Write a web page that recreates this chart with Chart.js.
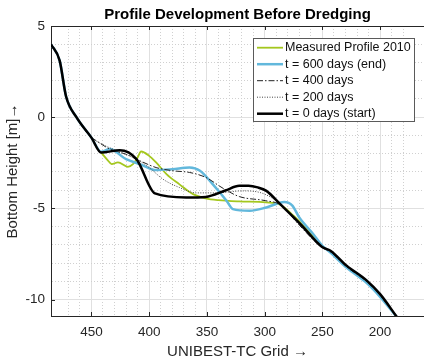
<!DOCTYPE html>
<html>
<head>
<meta charset="utf-8">
<script src="https://cdn.jsdelivr.net/npm/chart.js@4"></script>
<style>
  html, body { margin: 0; padding: 0; background: #fff; }
</style>
</head>
<body>
<canvas id="c" width="424" height="362"></canvas>
<script>
// grid positions (UNIBEST-TC) and bottom heights [m]
const xStart = [485, 477.5, 472, 463, 450, 441.5, 425.5, 411, 395, 368, 351, 334, 322, 314, 306, 298.5, 286.5, 269, 250.5, 243, 229, 211.5, 200, 185.5];
const yStart = [4.0, 3.1, 1.15, 0.0, -1.12, -1.94, -1.81, -2.3, -4.18, -4.4, -4.37, -4.02, -3.76, -3.76, -3.85, -4.04, -4.77, -5.86, -7.1, -7.32, -8.14, -8.96, -9.7, -10.95];

const x200 = [485, 477.5, 472, 463, 450, 446, 428, 411, 400, 388, 374, 359, 342, 319, 304, 293, 286, 270, 250.5, 243, 229, 211.5, 200, 185.5];
const y200 = [4.0, 3.1, 1.15, 0.0, -1.12, -1.3, -1.85, -2.3, -2.76, -3.4, -3.85, -4.15, -4.15, -4.04, -4.13, -4.45, -4.78, -5.88, -7.12, -7.36, -8.18, -9.0, -9.74, -10.97];

const x400 = [485, 477.5, 472, 463, 450, 448, 434, 420, 408, 394, 379, 365, 351, 336, 322, 299, 286.5, 270, 250.5, 243, 229, 211.5, 200, 185.5];
const y400 = [4.0, 3.1, 1.15, 0.0, -1.12, -1.2, -1.75, -2.03, -2.39, -2.76, -2.94, -3.03, -3.3, -3.9, -4.35, -4.58, -4.8, -5.92, -7.14, -7.38, -8.2, -9.02, -9.76, -10.98];

const x600 = [485, 477.5, 472, 463, 450, 441.5, 434, 420, 408, 394, 380, 365, 356, 345, 333, 327.5, 313, 298.5, 283, 276, 270, 258, 250, 243, 229, 211.5, 200, 185];
const y600 = [4.0, 3.1, 1.15, 0.0, -1.12, -1.9, -1.75, -2.3, -2.57, -2.9, -2.85, -2.76, -2.94, -3.67, -4.58, -5.04, -5.13, -4.95, -4.65, -4.85, -5.5, -6.4, -7.05, -7.42, -8.25, -9.1, -9.85, -11.0];

const xMeasured = [441.5, 436, 432.5, 427, 418.5, 414, 410, 407, 400, 394, 385, 374, 362, 351, 340, 322, 299, 286.5, 275, 265, 255];
const yMeasured = [-1.94, -2.35, -2.57, -2.48, -2.72, -2.57, -2.21, -1.88, -2.12, -2.48, -3.12, -3.67, -4.22, -4.45, -4.55, -4.62, -4.67, -4.8, -5.4, -6.05, -6.75];

const seriesLabels = ['Measured Profile 2010', 't = 600 days (end)', 't = 400 days', 't = 200 days', 't = 0 days (start)'];
const xTicksMajor = [450, 400, 350, 300, 250, 200];
const yTicksMajor = [-10, -5, 0, 5];

const pts = (xs, ys) => xs.map((x, i) => ({ x: x, y: ys[i] }));
const AXIS = '#262626';

// legend drawn inside the axes, top right, like the original
const insideLegend = {
  id: 'insideLegend',
  afterDatasetsDraw(chart) {
    const { ctx, chartArea } = chart;
    const ds = chart.data.datasets;
    const w = 161, rowH = 16.5, h = 83;
    const x0 = chartArea.right - 10 - w, y0 = chartArea.top + 12;
    ctx.save();
    ctx.fillStyle = '#fff';
    ctx.fillRect(x0, y0, w, h);
    ctx.strokeStyle = '#5a5a5a';
    ctx.lineWidth = 1;
    ctx.strokeRect(x0 + 0.5, y0 + 0.5, w, h);
    ctx.font = '12.5px "Liberation Sans", Arial, sans-serif';
    ctx.textBaseline = 'middle';
    ds.forEach((d, i) => {
      const y = y0 + 9.7 + i * rowH;
      ctx.beginPath();
      ctx.setLineDash(d.borderDash || []);
      ctx.strokeStyle = d.borderColor;
      ctx.lineWidth = d.borderWidth;
      ctx.moveTo(x0 + 4, y);
      ctx.lineTo(x0 + 30, y);
      ctx.stroke();
      ctx.setLineDash([]);
      ctx.fillStyle = '#111';
      ctx.fillText(d.label, x0 + 32, y);
    });
    ctx.restore();
  },
  afterDraw(chart) {
    // box on top + small inward tick marks
    const { ctx, chartArea, scales } = chart;
    ctx.save();
    ctx.strokeStyle = AXIS;
    ctx.lineWidth = 1;
    ctx.beginPath();
    ctx.moveTo(chartArea.left, chartArea.top + 0.5);
    ctx.lineTo(chartArea.right, chartArea.top + 0.5);
    xTicksMajor.forEach(v => {
      const px = Math.round(scales.x.getPixelForValue(v)) + 0.5;
      ctx.moveTo(px, chartArea.bottom);
      ctx.lineTo(px, chartArea.bottom - 4);
      ctx.moveTo(px, chartArea.top);
      ctx.lineTo(px, chartArea.top + 4);
    });
    yTicksMajor.forEach(v => {
      const py = Math.round(scales.y.getPixelForValue(v)) + 0.5;
      ctx.moveTo(chartArea.left, py);
      ctx.lineTo(chartArea.left + 4, py);
    });
    ctx.stroke();
    ctx.restore();
  }
};

const isMajor = (v, step) => Math.abs(v / step - Math.round(v / step)) < 1e-6;

new Chart(document.getElementById('c'), {
  type: 'line',
  data: {
    datasets: [
      { label: seriesLabels[0], data: pts(xMeasured, yMeasured), borderColor: 'rgb(164, 199, 30)', borderWidth: 1.8, order: 4 },
      { label: seriesLabels[1], data: pts(x600, y600), borderColor: 'rgb(98, 184, 220)', borderWidth: 2.5, order: 3 },
      { label: seriesLabels[2], data: pts(x400, y400), borderColor: '#222', borderWidth: 1, borderDash: [6, 2, 1.5, 2], order: 2 },
      { label: seriesLabels[3], data: pts(x200, y200), borderColor: '#444', borderWidth: 1, borderDash: [1, 1.5], order: 1 },
      { label: seriesLabels[4], data: pts(xStart, yStart), borderColor: '#000', borderWidth: 2.5, order: 0 }
    ]
  },
  options: {
    responsive: false,
    animation: false,
    layout: { padding: 0, autoPadding: false },
    elements: {
      point: { radius: 0 },
      line: { cubicInterpolationMode: 'monotone', fill: false }
    },
    scales: {
      x: {
        type: 'linear',
        reverse: true,
        min: 162,
        max: 485,
        afterFit: s => { s.height = 46; s.paddingLeft = 0; s.paddingRight = 0; },
        border: { color: AXIS, width: 1, dash: c => (c.tick && isMajor(c.tick.value, 50)) ? [] : [1, 2] },
        grid: {
          drawTicks: false,
          color: c => (c.tick && isMajor(c.tick.value, 50)) ? '#e0e0e0' : '#d0d0d0',
          lineWidth: 1
        },
        ticks: {
          stepSize: 10,
          autoSkip: false,
          maxRotation: 0,
          padding: 8,
          color: AXIS,
          font: { family: '"Liberation Sans", Arial, sans-serif', size: 13.5 },
          callback: v => isMajor(v, 50) ? String(v) : ''
        },
        title: {
          display: true,
          text: 'UNIBEST-TC Grid \u2192',
          color: AXIS,
          padding: { top: 0, bottom: 1 },
          font: { family: '"Liberation Sans", Arial, sans-serif', size: 15 }
        }
      },
      y: {
        type: 'linear',
        min: -10.9,
        max: 5,
        afterFit: s => { s.width = 51; s.paddingTop = 0; s.paddingBottom = 0; },
        border: { color: AXIS, width: 1, dash: c => (c.tick && isMajor(c.tick.value, 5)) ? [] : [1, 2] },
        grid: {
          drawTicks: false,
          color: c => (c.tick && isMajor(c.tick.value, 5)) ? '#e0e0e0' : '#d0d0d0',
          lineWidth: 1
        },
        ticks: {
          stepSize: 1,
          autoSkip: false,
          padding: 6,
          color: AXIS,
          font: { family: '"Liberation Sans", Arial, sans-serif', size: 13.5 },
          callback: v => isMajor(v, 5) ? String(v) : ''
        },
        title: {
          display: true,
          text: 'Bottom Height [m]\u2192',
          color: AXIS,
          padding: { top: 4, bottom: 0 },
          font: { family: '"Liberation Sans", Arial, sans-serif', size: 15 }
        }
      }
    },
    plugins: {
      legend: { display: false },
      tooltip: { enabled: false },
      title: {
        display: true,
        fullSize: false,
        text: 'Profile Development Before Dredging',
        color: '#000',
        padding: { top: 6, bottom: 2 },
        font: { family: '"Liberation Sans", Arial, sans-serif', size: 15, weight: 'bold' }
      }
    }
  },
  plugins: [insideLegend]
});
</script>
</body>
</html>
